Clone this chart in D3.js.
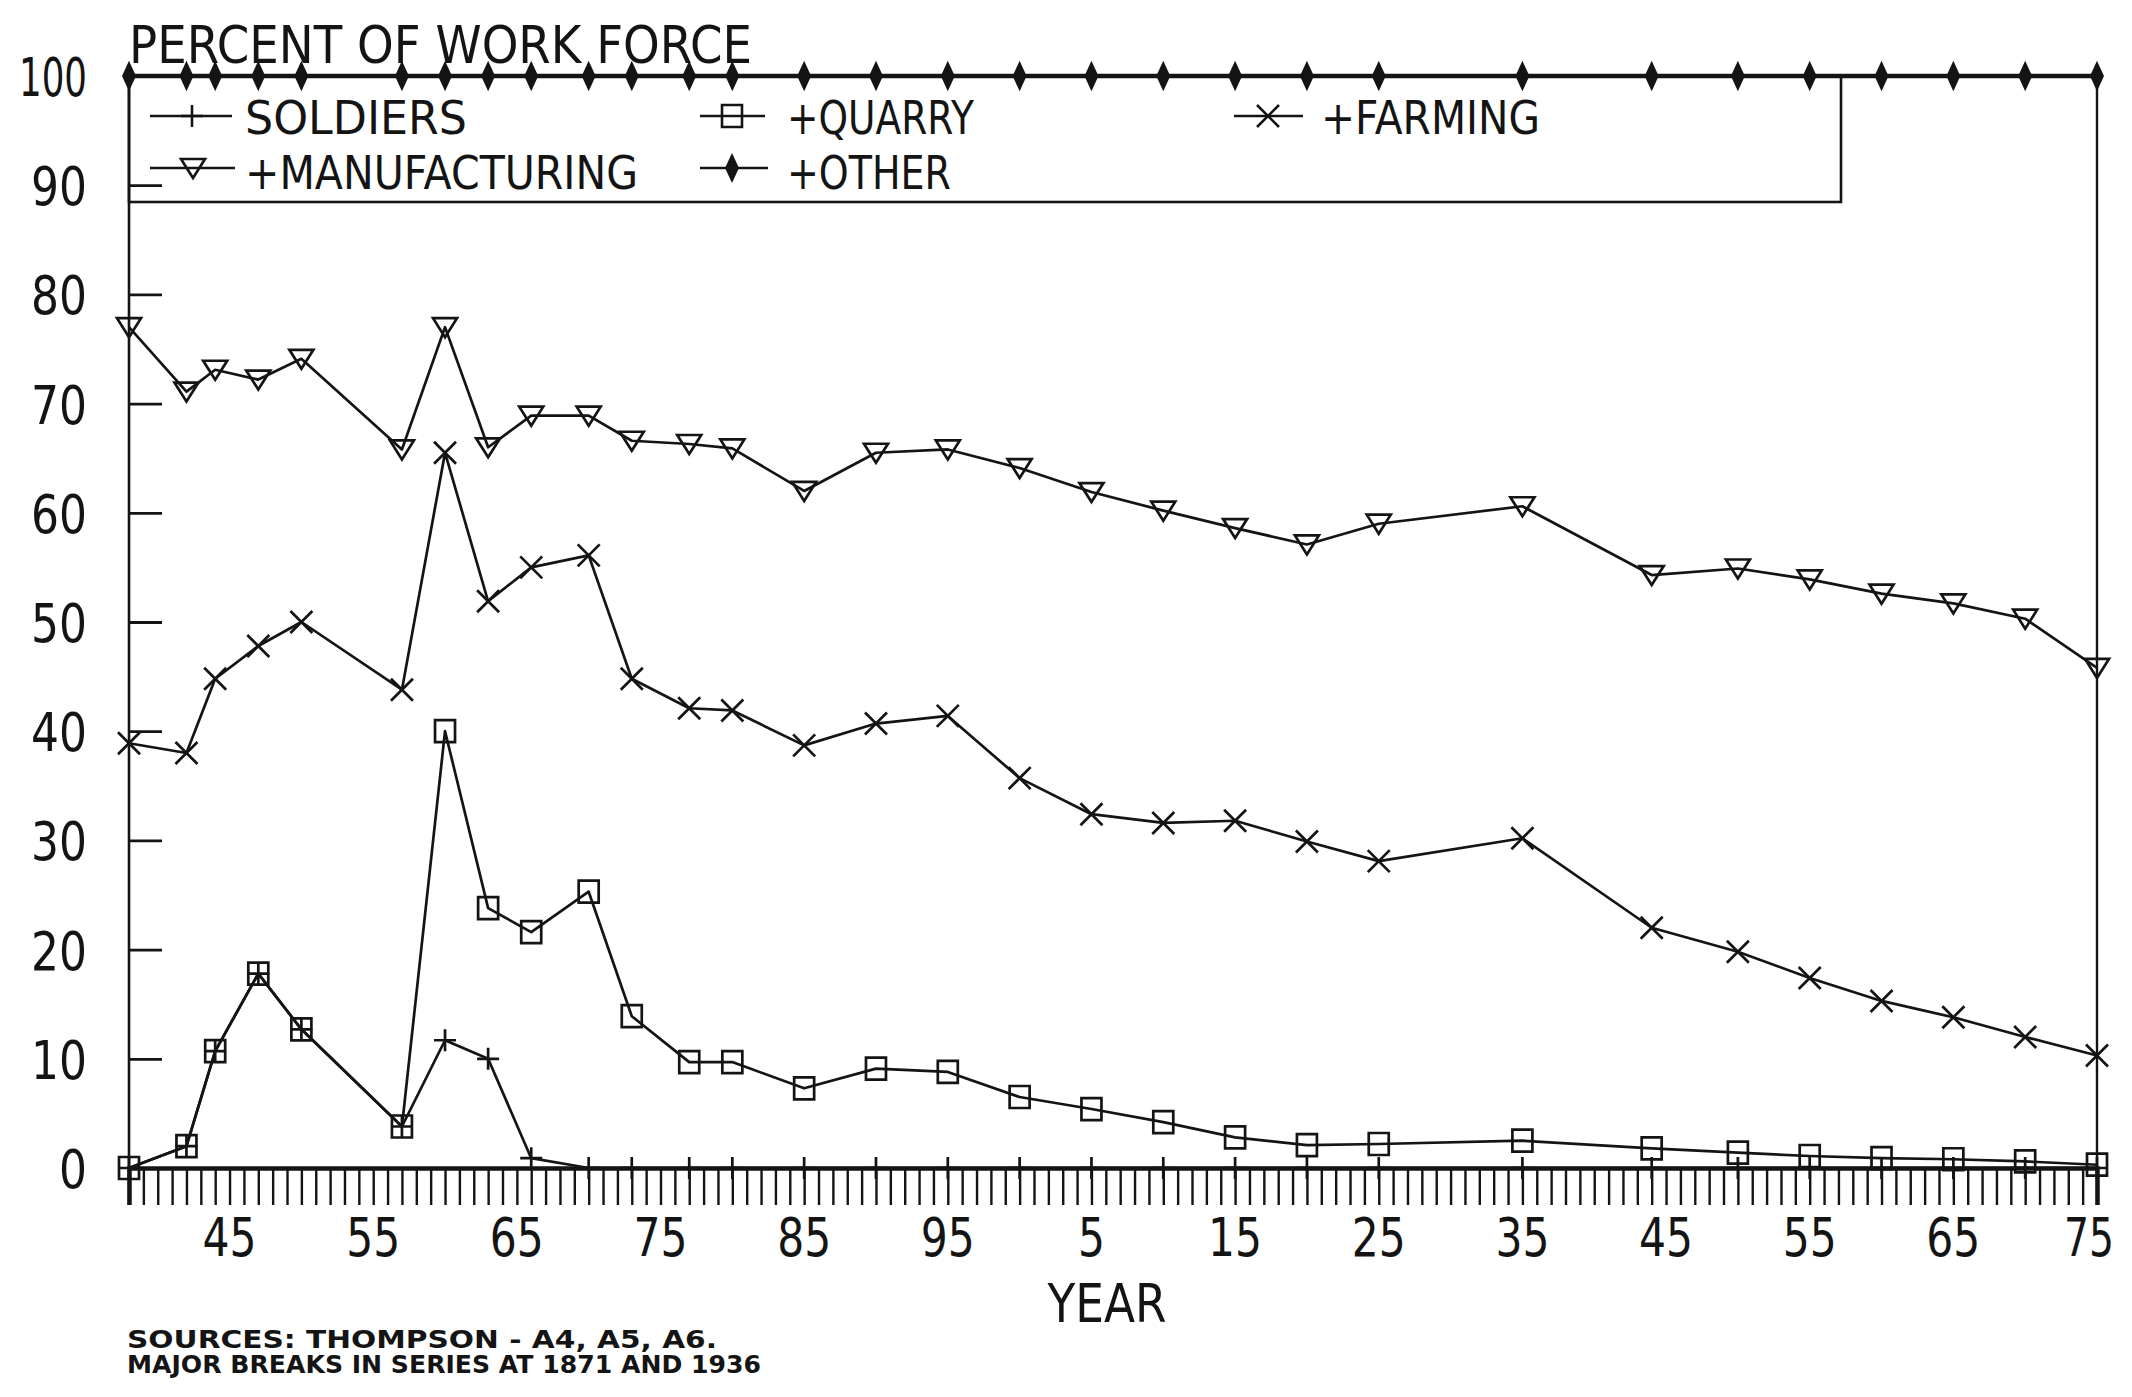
<!DOCTYPE html>
<html><head><meta charset="utf-8">
<script src="https://cdn.jsdelivr.net/npm/d3@7/dist/d3.min.js"></script>
<style>
html,body{margin:0;padding:0;background:#fff;}
svg{display:block;}
text{font-family:"DejaVu Sans","Liberation Sans",sans-serif;fill:#141414;}
</style></head><body>
<svg id="chart" width="2132" height="1397"></svg>
<script>
// ---- data (cumulative percent of work force) ----
const years = [1838,1842,1844,1847,1850,1857,1860,1863,1866,1870,1873,1877,1880,1885,1890,1895,1900,1905,1910,1915,1920,1925,1935,1944,1950,1955,1960,1965,1970,1975];
const soldiers = [0,2,10.7,17.8,12.7,3.8,11.7,10,0.9,0,0,0,0,0,0,0,0,0,0,0,0,0,0,0,0,0,0,0,0,0];
const quarry = [0,2,10.7,17.8,12.7,3.8,40,23.8,21.6,25.3,13.9,9.7,9.7,7.3,9.1,8.8,6.5,5.4,4.2,2.8,2.1,2.2,2.5,1.8,1.4,1.1,0.9,0.8,0.6,0.3];
const farming = [38.9,38.0,44.8,47.8,50.0,43.8,65.5,51.9,55.0,56.1,44.8,42.1,41.9,38.7,40.7,41.4,35.7,32.4,31.6,31.8,29.9,28.1,30.2,22.0,19.8,17.4,15.3,13.8,12.0,10.3];
const manufacturing = [77.0,71.1,73.1,72.2,74.1,65.8,77.0,66.0,68.9,68.9,66.6,66.3,65.9,62.0,65.5,65.8,64.1,61.9,60.2,58.6,57.1,59.0,60.6,54.3,54.9,53.9,52.6,51.7,50.3,45.8];
const other = [100,100,100,100,100,100,100,100,100,100,100,100,100,100,100,100,100,100,100,100,100,100,100,100,100,100,100,100,100,100];
const yTickValues = [0,10,20,30,40,50,60,70,80,90,100];
const xLabelYears = [1845,1855,1865,1875,1885,1895,1905,1915,1925,1935,1945,1955,1965,1975];
const legendLabels = ["SOLDIERS","+QUARRY","+FARMING","+MANUFACTURING","+OTHER"];
const titleText = "PERCENT OF WORK FORCE";
const xAxisTitle = "YEAR";
const notes = ["SOURCES: THOMPSON - A4, A5, A6.","MAJOR BREAKS IN SERIES AT 1871 AND 1936"];

// ---- layout ----
const INK = "#141414";
const svg = d3.select("#chart");
const x = d3.scaleLinear().domain([1838,1975]).range([129,2097]);
const y = d3.scaleLinear().domain([0,100]).range([1168,76]);

function txt(s, px, py, size, anchor, width, weight){
  const t = svg.append("text").attr("x",px).attr("y",py)
    .attr("font-size",size).attr("text-anchor",anchor||"start").text(s);
  if(weight) t.attr("font-weight",weight);
  if(width){ t.attr("textLength",width).attr("lengthAdjust","spacingAndGlyphs"); }
  return t;
}

// marker shapes
const markers = {
  plus: "M-11,0H11M0,-11V11",
  square: "M-10,-11H10V11H-10Z",
  tri: "M-12,-9H12L0,10Z",
  cross: "M-11,-11L11,11M-11,11L11,-11",
  diamond: "M0,-12L5.5,0L0,12L-5.5,0Z"
};

const seriesList = [
  {name:"soldiers", values:soldiers, m:"plus", fill:"none"},
  {name:"quarry", values:quarry, m:"square", fill:"none"},
  {name:"farming", values:farming, m:"cross", fill:"none"},
  {name:"manufacturing", values:manufacturing, m:"tri", fill:"none"},
  {name:"other", values:other, m:"diamond", fill:INK}
];

const line = d3.line().x(d=>x(d[0])).y(d=>y(d[1]));

// legend box
svg.append("rect").attr("x",x(1838)).attr("y",y(100))
  .attr("width",1841-x(1838)).attr("height",202-y(100))
  .attr("fill","none").attr("stroke",INK).attr("stroke-width",2.6);

// series lines and markers
seriesList.forEach(s=>{
  const pts = years.map((yr,i)=>[yr,s.values[i]]);
  svg.append("path").attr("d",line(pts)).attr("fill","none")
    .attr("stroke",INK).attr("stroke-width", s.name==="other"?4.5:2.7)
    .attr("stroke-linejoin","round");
  svg.append("g").selectAll("path").data(pts).join("path")
    .attr("transform",d=>`translate(${x(d[0])},${y(d[1])})`)
    .attr("d",markers[s.m]).attr("fill",s.fill)
    .attr("stroke",INK).attr("stroke-width",2.7);
});

// x axis: yearly ticks
const xTicks = d3.axisBottom(x).tickValues(d3.range(1838,1976)).tickSize(37).tickFormat("");
const gx = svg.append("g").attr("transform",`translate(0,${y(0)})`).call(xTicks);
gx.select(".domain").attr("stroke",INK).attr("stroke-width",4.5);
gx.selectAll(".tick line").attr("stroke",INK).attr("stroke-width",2.4);

// x labels
xLabelYears.forEach(yr=>{
  const s = String(yr%100);
  const last = yr===1975;
  const w = last ? 50 : s.length*27;
  txt(s, last ? x(yr)-8 : x(yr), 1256, 54, "middle", w);
});
txt(xAxisTitle, 1107, 1322, 54, "middle", 119);

// y axis ticks (inside, to the right)
const yTicks = d3.axisRight(y).tickValues(yTickValues).tickSize(33).tickFormat("");
const gy = svg.append("g").attr("transform",`translate(${x(1838)},0)`).call(yTicks);
gy.select(".domain").remove();
gy.selectAll(".tick line").attr("stroke",INK).attr("stroke-width",2.8);
yTickValues.forEach(v=>{
  const s = String(v);
  const w = s==="100" ? 68 : s.length*28;
  txt(s, 87, y(v)+20, 54, "end", w);
});

// frame lines: left axis and right border
svg.append("line").attr("x1",x(1838)).attr("x2",x(1838)).attr("y1",y(100)).attr("y2",y(0)+37)
  .attr("stroke",INK).attr("stroke-width",2.6);
svg.append("line").attr("x1",x(1975)).attr("x2",x(1975)).attr("y1",y(100)).attr("y2",y(0)+37)
  .attr("stroke",INK).attr("stroke-width",2.4);

// title
txt(titleText, 129, 63, 52, "start", 623);

// legend entries
const legendPos = [
  {x1:150,x2:232,mx:192,cy:116,base:134,tx:245,tw:222},
  {x1:700,x2:765,mx:732,cy:116,base:134,tx:787,tw:187},
  {x1:1234,x2:1303,mx:1268,cy:116,base:134,tx:1321,tw:219},
  {x1:150,x2:235,mx:193,cy:168,base:189,tx:245,tw:393},
  {x1:700,x2:768,mx:732,cy:168,base:189,tx:787,tw:164}
];
seriesList.forEach((s,i)=>{
  const p = legendPos[i];
  svg.append("line").attr("x1",p.x1).attr("x2",p.x2).attr("y1",p.cy).attr("y2",p.cy)
    .attr("stroke",INK).attr("stroke-width",2.6);
  svg.append("path").attr("transform",`translate(${p.mx},${p.cy})`)
    .attr("d",markers[s.m]).attr("fill",s.fill).attr("stroke",INK).attr("stroke-width",2.6);
  txt(legendLabels[i], p.tx, p.base, 47, "start", p.tw);
});

// source notes
txt(notes[0], 127, 1348, 25, "start", 590, "bold");
txt(notes[1], 127, 1373, 25, "start", 634, "bold");
</script>
</body></html>
